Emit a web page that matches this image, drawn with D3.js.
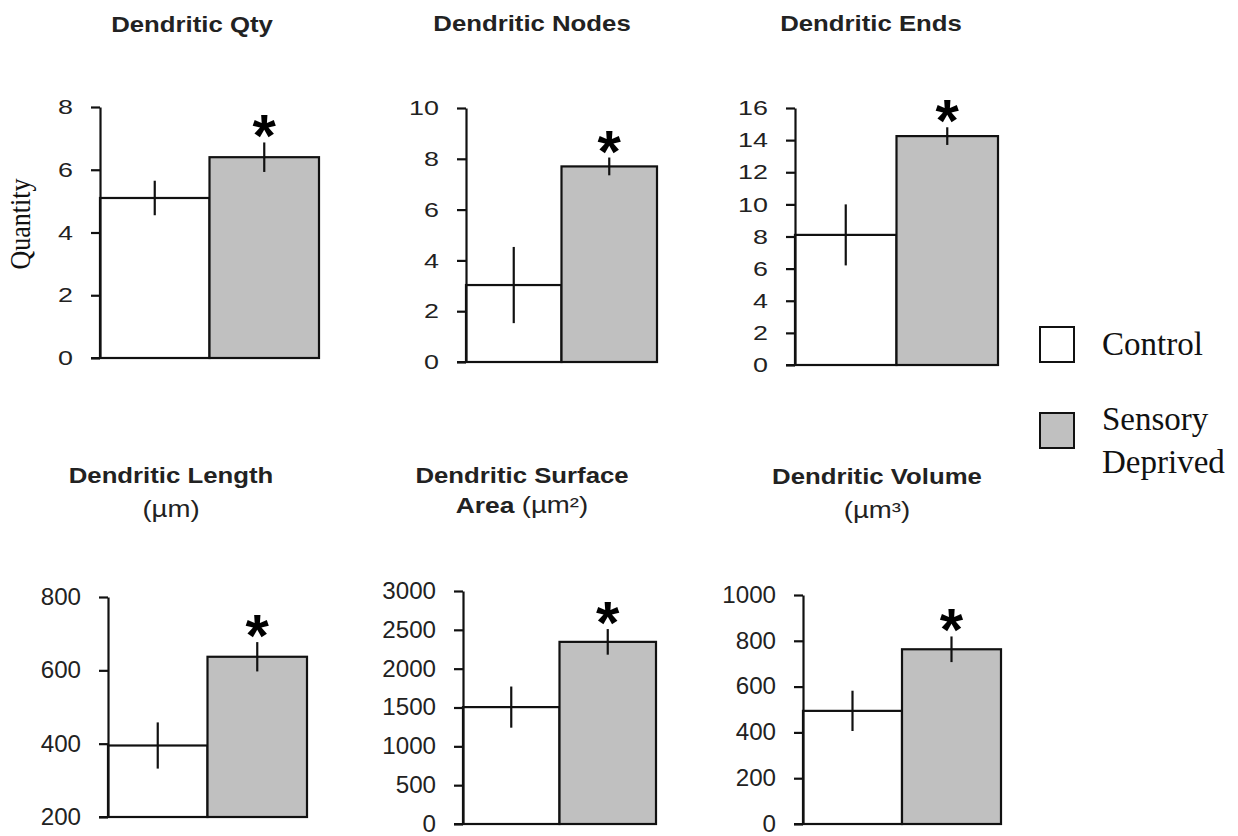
<!DOCTYPE html>
<html>
<head>
<meta charset="utf-8">
<script src="https://cdn.jsdelivr.net/npm/d3@7"></script>
<style>
  body { margin: 0; background: #fff; }
</style>
</head>
<body>
<svg id="chart" width="1238" height="836"></svg>
<script>
// Values (mean and error bar half-length per panel)
var groups = ["Control", "Sensory Deprived"];
var titleMain = ["Dendritic Qty", "Dendritic Nodes", "Dendritic Ends", "Dendritic Length", "Dendritic Surface", "Dendritic Volume"];
var titleSubBold = ["", "", "", "", "Area", ""];
var titleSubUnit = ["", "", "", "(µm)", "(µm²)", "(µm³)"];
var controlMeans = [5.1, 3.03, 8.1, 395, 1505, 494];
var controlErrors = [0.55, 1.5, 1.9, 63, 265, 88];
var deprivedMeans = [6.4, 7.7, 14.25, 637, 2345, 763];
var deprivedErrors = [0.47, 0.35, 0.55, 40, 165, 56];
var yMins = [0, 0, 0, 200, 0, 0];
var yMaxs = [8, 10, 16, 800, 3000, 1000];
var tickValues = [
    [0, 2, 4, 6, 8],
    [0, 2, 4, 6, 8, 10],
    [0, 2, 4, 6, 8, 10, 12, 14, 16],
    [200, 400, 600, 800],
    [0, 500, 1000, 1500, 2000, 2500, 3000],
    [0, 200, 400, 600, 800, 1000]
];

// Panel placement on the page
var panels = [
    { axisX: 100, top: 107, bottom: 358, right: 319, titleX: 192, titleY: 32 },
    { axisX: 466, top: 108, bottom: 362, right: 657, titleX: 532, titleY: 31 },
    { axisX: 795, top: 108, bottom: 365, right: 998, titleX: 871, titleY: 31 },
    { axisX: 108, top: 597, bottom: 817, right: 307, titleX: 171, titleY: 483 },
    { axisX: 463, top: 591, bottom: 824, right: 656, titleX: 522, titleY: 483 },
    { axisX: 803, top: 595, bottom: 824, right: 1001, titleX: 877, titleY: 484 }
];

var sans = "'Liberation Sans', Arial, sans-serif";
var serif = "'Liberation Serif', 'Times New Roman', serif";
var ink = "#111";
var tickSize = 9, tickPad = 18;

var svg = d3.select("#chart");

panels.forEach(function(p, i) {
    var g = svg.append("g");
    var means = [controlMeans[i], deprivedMeans[i]];
    var errs = [controlErrors[i], deprivedErrors[i]];
    var topRow = i < 3;
    var stretch = topRow ? 1.28 : 1.05;

    var y = d3.scaleLinear().domain([yMins[i], yMaxs[i]]).range([p.bottom, p.top]);
    var x = d3.scaleBand().domain(groups).range([p.axisX, p.right]).padding(0);

    // Bars
    g.selectAll(".bar")
        .data(groups)
        .enter().append("rect")
        .attr("class", "bar")
        .attr("x", function(d) { return x(d); })
        .attr("y", function(d, j) { return y(means[j]); })
        .attr("width", x.bandwidth())
        .attr("height", function(d, j) { return y(yMins[i]) - y(means[j]); })
        .attr("fill", function(d, j) { return j ? "#c0c0c0" : "#fff"; })
        .attr("stroke", ink)
        .attr("stroke-width", 2.2);

    // Error bars (no caps)
    g.selectAll(".err")
        .data(groups)
        .enter().append("line")
        .attr("class", "err")
        .attr("x1", function(d) { return x(d) + x.bandwidth() / 2; })
        .attr("x2", function(d) { return x(d) + x.bandwidth() / 2; })
        .attr("y1", function(d, j) { return y(means[j] + errs[j]); })
        .attr("y2", function(d, j) { return y(means[j] - errs[j]); })
        .attr("stroke", ink)
        .attr("stroke-width", 2.2);

    // Significance star above the deprived bar
    g.append("text")
        .attr("x", x(groups[1]) + x.bandwidth() / 2)
        .attr("y", y(means[1] + errs[1]) + 14)
        .attr("text-anchor", "middle")
        .attr("font-family", sans)
        .attr("font-weight", "bold")
        .attr("font-size", 60)
        .attr("fill", "#000")
        .text("*");

    // Y axis
    var axis = d3.axisLeft(y)
        .tickValues(tickValues[i])
        .tickFormat(d3.format("d"))
        .tickSize(tickSize)
        .tickSizeOuter(0)
        .tickPadding(tickPad);
    var ag = g.append("g")
        .attr("transform", "translate(" + p.axisX + ",0)")
        .call(axis)
        .attr("font-family", sans)
        .attr("font-size", topRow ? 21 : 23);
    ag.select(".domain").attr("stroke", ink).attr("stroke-width", 2.2);
    ag.selectAll(".tick line").attr("stroke", ink).attr("stroke-width", 2.2);
    ag.selectAll(".tick text")
        .attr("fill", "#222")
        .attr("x", -(tickSize + tickPad) / stretch)
        .attr("transform", "scale(" + stretch + ",1)");

    // X axis baseline
    g.append("line")
        .attr("x1", p.axisX - tickSize)
        .attr("x2", p.right)
        .attr("y1", y(yMins[i]))
        .attr("y2", y(yMins[i]))
        .attr("stroke", ink)
        .attr("stroke-width", 2.2);

    // Title
    g.append("text")
        .attr("transform", "translate(" + p.titleX + "," + p.titleY + ") scale(1.12,1)")
        .attr("text-anchor", "middle")
        .attr("font-family", sans)
        .attr("font-weight", "bold")
        .attr("font-size", 23)
        .attr("fill", "#222")
        .text(titleMain[i]);

    if (titleSubUnit[i]) {
        var sub = g.append("text")
            .attr("transform", "translate(" + p.titleX + "," + (p.titleY + (titleSubBold[i] ? 30 : 34)) + ") scale(1.2,1)")
            .attr("text-anchor", "middle")
            .attr("font-family", sans)
            .attr("font-size", 23)
            .attr("fill", "#222");
        if (titleSubBold[i]) {
            sub.append("tspan").attr("font-weight", "bold").attr("font-size", 22).text(titleSubBold[i] + " ");
        }
        sub.append("tspan").text(titleSubUnit[i]);
    }
});

// Y label of first panel
svg.append("text")
    .attr("transform", "translate(30,224) scale(1.15,1) rotate(-90)")
    .attr("text-anchor", "middle")
    .attr("font-family", serif)
    .attr("font-size", 26)
    .attr("fill", "#111")
    .text("Quantity");

// Legend
var legendFill = ["#fff", "#c0c0c0"];
var legendBoxY = [327, 413];
var legendLines = [["Control"], ["Sensory", "Deprived"]];
var legend = svg.append("g");
groups.forEach(function(name, j) {
    legend.append("rect")
        .attr("x", 1040)
        .attr("y", legendBoxY[j])
        .attr("width", 34)
        .attr("height", 35)
        .attr("fill", legendFill[j])
        .attr("stroke", ink)
        .attr("stroke-width", 2);
    legend.append("text")
        .attr("font-family", serif)
        .attr("font-size", 33)
        .attr("fill", "#111")
        .selectAll("tspan")
        .data(legendLines[j])
        .enter().append("tspan")
        .attr("x", 1102)
        .attr("y", function(d, k) { return (j ? 430 : 355) + k * 43; })
        .text(function(d) { return d; });
});
</script>
</body>
</html>
